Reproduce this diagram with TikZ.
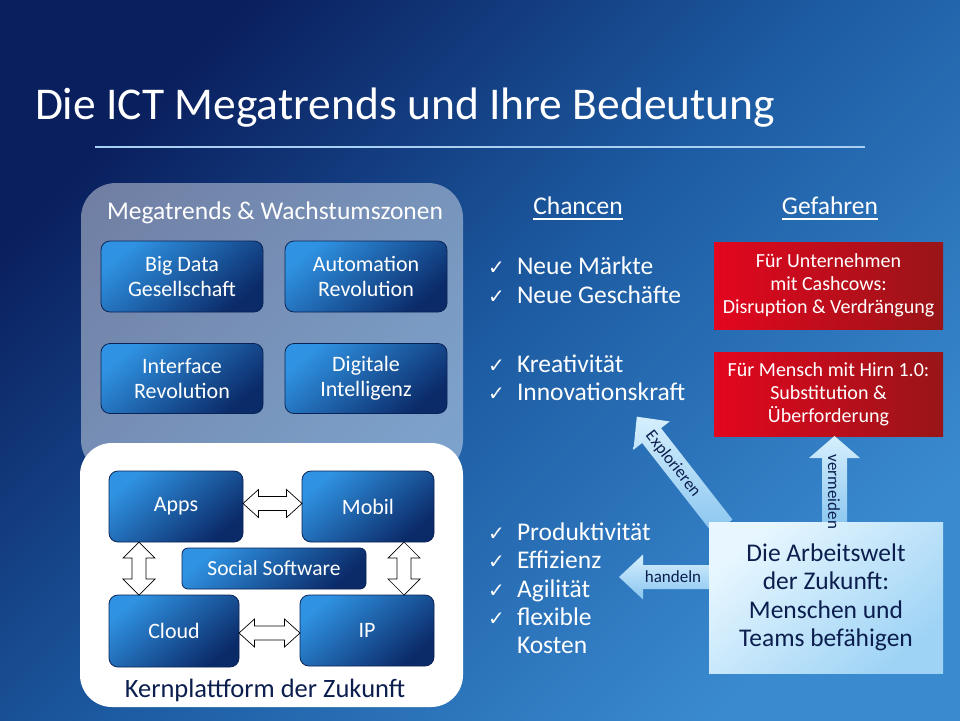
\documentclass[tikz,border=0pt]{standalone}
\usepackage{fontspec}
\setmainfont{Carlito}
\newfontfamily\symf{DejaVu Sans}
\usetikzlibrary{calc}
\definecolor{bgdark}{HTML}{0A1F5E}
\definecolor{bgmid}{HTML}{1D5CA3}
\definecolor{bglight}{HTML}{3A8AD0}
\definecolor{boxlight}{HTML}{2F92E2}
\definecolor{boxdark}{HTML}{0B2A68}
\definecolor{boxedge}{HTML}{0A2357}
\definecolor{redL}{HTML}{E3061F}
\definecolor{redR}{HTML}{981518}
\definecolor{workL}{HTML}{E8F7FF}
\definecolor{workD}{HTML}{9ED3F5}
\definecolor{arrL}{HTML}{D6EFFD}
\definecolor{arrD}{HTML}{88C5EF}
\definecolor{navytext}{HTML}{0B1E4E}
\definecolor{ruler}{HTML}{A9D0F2}
\newcommand\hdbl[2]{%
  \draw[dblarrow] let \p1=(#1), \p2=(#2) in
    (\x1,\y1) -- (\x1+15.5pt,\y1+14pt) -- (\x1+15.5pt,\y1+7pt) -- (\x2-15.5pt,\y1+7pt)
    -- (\x2-15.5pt,\y1+14pt) -- (\x2,\y1) -- (\x2-15.5pt,\y1-14pt) -- (\x2-15.5pt,\y1-7pt)
    -- (\x1+15.5pt,\y1-7pt) -- (\x1+15.5pt,\y1-14pt) -- cycle;}
\newcommand\vdbl[2]{%
  \draw[dblarrow] let \p1=(#1), \p2=(#2) in
    (\x1,\y1) -- (\x1+16pt,\y1-16pt) -- (\x1+7pt,\y1-16pt) -- (\x1+7pt,\y2+16pt)
    -- (\x1+16pt,\y2+16pt) -- (\x1,\y2) -- (\x1-16pt,\y2+16pt) -- (\x1-7pt,\y2+16pt)
    -- (\x1-7pt,\y1-16pt) -- (\x1-16pt,\y1-16pt) -- cycle;}
% single arrow: length, head length, head half width, shaft half width
\newcommand\sarrow[4]{%
  \shade[lbarrow] (0,-#4) -- ({#1-#2},-#4) -- ({#1-#2},-#3) -- (#1,0)
    -- ({#1-#2},#3) -- ({#1-#2},#4) -- (0,#4) -- cycle;}
\begin{document}
\begin{tikzpicture}[x=1pt,y=-1pt,
  every node/.style={inner sep=0pt, outer sep=0pt},
  bluebox/.style={rectangle, rounded corners=9pt, draw=boxedge, line width=0.8pt,
    top color=boxlight, bottom color=boxdark, shading angle=40,
    text=white, align=center, font=\fontsize{22}{25}\selectfont},
  redbox/.style={rectangle, left color=redL, right color=redR, text=white,
    align=center, font=\fontsize{20}{23}\selectfont},
  workbox/.style={rectangle, top color=workL, bottom color=workD, shading angle=40,
    text=navytext, align=center, font=\fontsize{25.5}{28.5}\selectfont},
  chk/.style={anchor=base west, text=white, font=\fontsize{25.5}{28.5}\selectfont},
  ckmark/.style={anchor=base west, text=white, font=\symf\fontsize{20}{22}\selectfont},
  headtxt/.style={anchor=base, text=white, font=\fontsize{25.5}{30}\selectfont},
  dblarrow/.style={draw=black, fill=white, line width=0.7pt, line join=miter},
  lbarrow/.style={top color=arrL, bottom color=arrD, draw=none},
  arrlabel/.style={text=navytext, font=\fontsize{17}{18}\selectfont},
]
\useasboundingbox (0,0) rectangle (960,720);
% background
\shade[top color=bgdark, bottom color=bglight, middle color=bgmid, shading angle=45]
  (0,0) rectangle (960,720);
% title
\node[anchor=base west, text=white, font=\fontsize{45.5}{50}\selectfont] (title) at (35,119)
  {Die ICT Megatrends und Ihre Bedeutung};
\draw[ruler, line width=1.5pt] (95,147) -- (865,147);

% left panels
\fill[white, opacity=0.42, rounded corners=35pt] (81,183) rectangle (463,475);
\fill[white, rounded corners=32pt] (80,443) rectangle (463,707);
\node[headtxt] (mega) at (275,219) {Megatrends \& Wachstumszonen};

\node[bluebox, minimum width=162, minimum height=71] (bigdata) at (182,276.5) {Big Data\\Gesellschaft};
\node[bluebox, minimum width=162, minimum height=71] (autom) at (366,276.5) {Automation\\Revolution};
\node[bluebox, minimum width=162, minimum height=70] (iface) at (182,378.5) {Interface\\Revolution};
\node[bluebox, minimum width=162, minimum height=70] (digi) at (366,378.5) {Digitale\\Intelligenz};

\node[bluebox, minimum width=134, minimum height=71] (apps) at (176,506.5) {Apps};
\node[bluebox, minimum width=132, minimum height=71] (mobil) at (368,506.5) {Mobil};
\node[bluebox, minimum width=184, minimum height=41, rounded corners=6pt, font=\fontsize{21.5}{25}\selectfont] (social) at (274,568.5) {Social Software};
\node[bluebox, minimum width=130, minimum height=72] (cloud) at (174,631) {Cloud};
\node[bluebox, minimum width=134, minimum height=71] (ip) at (367,630.5) {IP};

\hdbl{[yshift=3pt]apps.east}{[yshift=3pt]mobil.west}
\hdbl{[yshift=-2pt]cloud.east}{[yshift=-2pt]ip.west}
\vdbl{[xshift=-37pt]apps.south}{[xshift=-35pt]cloud.north}
\vdbl{[xshift=-30pt]mobil.south east}{[xshift=-30pt]ip.north east}

\node[anchor=base, text=navytext, font=\fontsize{26.5}{30}\selectfont] (kern) at (265,697) {Kernplattform der Zukunft};

% right side headings
\node[headtxt] (chancen) at (578,214) {Chancen};
\draw[white, line width=1.3pt] ([yshift=-5pt]chancen.base west) -- ([yshift=-5pt]chancen.base east);
\node[headtxt] (gefahren) at (830,214) {Gefahren};
\draw[white, line width=1.3pt] ([yshift=-5pt]gefahren.base west) -- ([yshift=-5pt]gefahren.base east);

% check lists
\foreach \yy/\t [count=\i] in {274/Neue Märkte, 303/Neue Geschäfte, 372/Kreativität,
    400/Innovationskraft, 540/Produktivität, 568/Effizienz, 597/Agilität, 625/flexible} {
  \node[ckmark] (ck\i) at (488,\yy) {✓};
  \node[chk] (item\i) at (517,\yy) {\t};
}
\node[chk] (item9) at (517,653) {Kosten};

% red boxes
\node[redbox, minimum width=229, minimum height=87] (red1) at (828.5,285.5)
  {Für Unternehmen\\mit Cashcows:\\Disruption \& Verdrängung};
\node[redbox, minimum width=229, minimum height=84] (red2) at (828.5,394)
  {Für Mensch mit Hirn 1.0:\\Substitution \&\\Überforderung};

% work box position helper
\coordinate (wnw) at (709,522);
% light arrows (drawn under the box)
\begin{scope}[shift={($(wnw)+(14,5)$)}, rotate=128]
  \sarrow{140}{24}{23}{12}
\end{scope}
\begin{scope}[shift={(834.5,530)}, rotate=90]
  \sarrow{94}{22}{25.5}{12.5}
\end{scope}
\begin{scope}[shift={(715,577)}, rotate=180]
  \sarrow{96}{24}{22.5}{12}
\end{scope}

\node[workbox, minimum width=234, minimum height=151] (work) at (826,597.5)
  {Die Arbeitswelt\\der Zukunft:\\Menschen und\\Teams befähigen};

\node[arrlabel, rotate=-52] (lexp) at (673,464) {Explorieren};
\node[arrlabel, rotate=-90] (lverm) at (834,492) {vermeiden};
\node[arrlabel] (lhand) at (673,577) {handeln};
\end{tikzpicture}
\end{document}
